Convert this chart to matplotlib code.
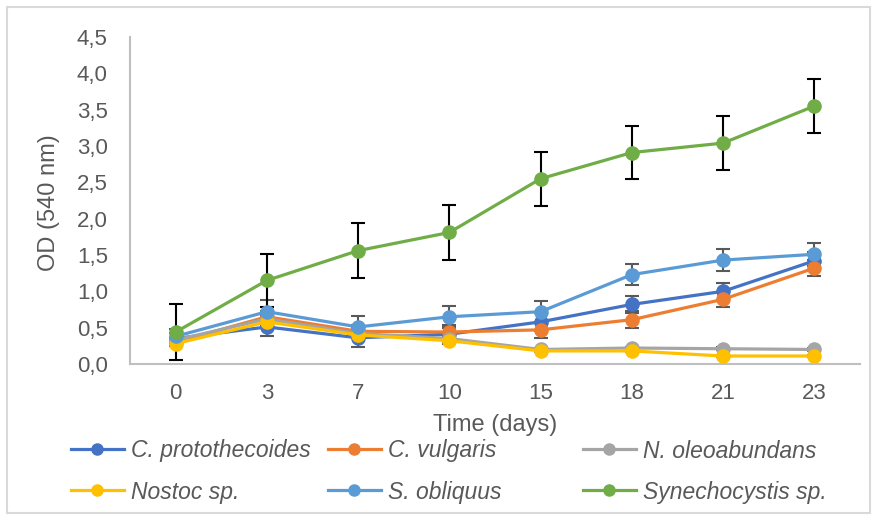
import matplotlib.pyplot as plt
import numpy as np
from matplotlib.patches import Rectangle

days = ['0', '3', '7', '10', '15', '18', '21', '23']

prot = [0.35, 0.51, 0.36, 0.41, 0.58, 0.82, 1.00, 1.42]
prot_err = [0.08, 0.12, 0.13, 0.13, 0.12, 0.12, 0.12, 0.12]
vulg = [0.30, 0.65, 0.45, 0.44, 0.47, 0.61, 0.89, 1.32]
vulg_err = [0.05, 0.08, 0.08, 0.08, 0.11, 0.12, 0.10, 0.11]
oleo = [0.33, 0.62, 0.42, 0.35, 0.20, 0.22, 0.21, 0.20]
oleo_err = [0.03, 0.04, 0.03, 0.03, 0.02, 0.02, 0.02, 0.02]
nost = [0.28, 0.58, 0.40, 0.32, 0.18, 0.18, 0.11, 0.11]
nost_err = [0.03, 0.04, 0.03, 0.03, 0.02, 0.02, 0.02, 0.02]
obl = [0.38, 0.72, 0.51, 0.65, 0.72, 1.23, 1.43, 1.51]
obl_err = [0.10, 0.16, 0.15, 0.15, 0.15, 0.14, 0.15, 0.16]
syn = [0.44, 1.15, 1.56, 1.81, 2.55, 2.91, 3.04, 3.55]
syn_err = [0.38, 0.37, 0.38, 0.38, 0.37, 0.37, 0.37, 0.37]

series = [
    ('C. protothecoides', prot, prot_err, '#4472C4', '#595959'),
    ('C. vulgaris', vulg, vulg_err, '#ED7D31', '#595959'),
    ('N. oleoabundans', oleo, oleo_err, '#A5A5A5', '#595959'),
    ('Nostoc sp.', nost, nost_err, '#FFC000', '#595959'),
    ('S. obliquus', obl, obl_err, '#5B9BD5', '#595959'),
    ('Synechocystis sp.', syn, syn_err, '#70AD47', 'black'),
]

plt.rcParams['font.family'] = ['Liberation Sans', 'DejaVu Sans']
grey = '#595959'

fig = plt.figure(figsize=(8.77, 5.2), dpi=100)
ax = fig.add_axes([130 / 877, 1 - 364 / 520, 730 / 877, 327 / 520])

x = np.arange(len(days))
for name, vals, err, col, ecol in series:
    ax.errorbar(x, vals, yerr=err, fmt='none', ecolor=ecol, elinewidth=1.5,
                capsize=5, capthick=1.5, zorder=2)
    ax.plot(x, vals, color=col, lw=2.3, marker='o', ms=9.5, zorder=3)

ax.set_xlim(-0.5, len(days) - 0.5)
ax.set_ylim(0, 4.5)
ax.set_xticks(x)
ax.set_xticklabels(days)
yt = np.arange(0, 4.51, 0.5)
ax.set_yticks(yt)
ax.set_yticklabels([f'{v:.1f}'.replace('.', ',') for v in yt])
ax.tick_params(length=0, labelsize=16, colors=grey)
ax.tick_params(axis='y', pad=16)
ax.tick_params(axis='x', pad=14)
for s in ['top', 'right']:
    ax.spines[s].set_visible(False)
for s in ['left', 'bottom']:
    ax.spines[s].set_color('#BFBFBF')
    ax.spines[s].set_linewidth(1.5)

fig.text(49 / 877, 1 - 203 / 520, 'OD (540 nm)', fontsize=17, color=grey,
         rotation=90, ha='center', va='center')
fig.text(495 / 877, 1 - 425 / 520, 'Time (days)', fontsize=17, color=grey,
         ha='center', va='center')

# legend: three equal-width columns, filled row by row like Excel
col_x = [71, 328, 583]
row_y = [451, 492]
for i, (name, vals, err, col, ecol) in enumerate(series):
    h, = ax.plot([], [], color=col, lw=2.3, marker='o', ms=8)
    leg = fig.legend(handles=[h], labels=[name], loc='center left',
                     bbox_to_anchor=(col_x[i % 3] / 877, 1 - row_y[i // 3] / 520),
                     frameon=False, borderpad=0, borderaxespad=0,
                     handlelength=2.3, handletextpad=0.3,
                     prop={'style': 'italic', 'size': 16.5})
    leg.get_texts()[0].set_color(grey)

fig.add_artist(Rectangle((7 / 877, 7 / 520), 863 / 877, 506 / 520,
                         transform=fig.transFigure, fill=False,
                         edgecolor='#D9D9D9', lw=1.5))

fig.savefig('out.png', dpi=100)
